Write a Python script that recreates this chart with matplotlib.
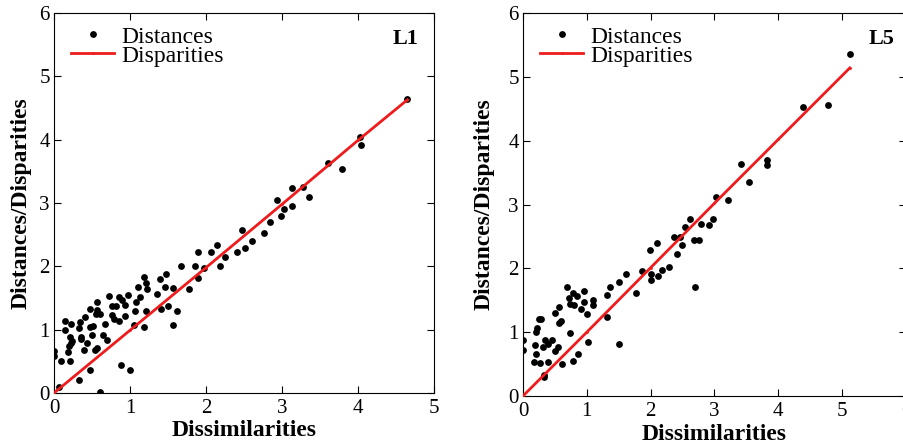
import matplotlib
matplotlib.use("Agg")
import matplotlib.pyplot as plt

plt.rcParams['font.family'] = ['Liberation Serif', 'DejaVu Serif']

# ---- Panel L1 data ----
l1_dissim = [4.65, 4.04, 3.79, 3.35, 3.13, 3.13, 3.27, 2.93, 3.02, 2.99, 2.84, 2.76, 2.60,
             2.47, 2.51, 2.41, 2.25, 2.18, 2.14, 2.07, 1.97, 1.90, 1.86, 1.89, 1.77, 1.67,
             1.62, 1.56, 1.57, 1.48, 1.46, 1.50, 1.39, 1.41, 1.35, 1.18, 1.21, 1.23, 1.10,
             1.13, 1.08, 1.06, 1.21, 1.19, 1.05, 0.98, 0.93, 0.94, 0.89, 0.86, 0.82, 0.77,
             0.76, 0.79, 0.86, 0.73, 0.56, 0.57, 0.55, 0.60, 0.47, 0.41, 0.48, 0.51, 0.67,
             0.65, 0.70, 0.50, 0.44, 0.34, 0.33, 0.35, 0.36, 0.40, 0.54, 0.56, 0.23, 0.15,
             0.14, 0.21, 0.22, 0.19, 0.20, 0.24, 0.09, 0.21, 0.47, 0.33, 0.88, 1.00, 0.0,
             0.0, 0.60, 0.06, 3.61, 4.03]
l1_dist = [4.64, 3.91, 3.54, 3.10, 3.23, 2.96, 3.25, 3.04, 2.90, 2.79, 2.70, 2.53, 2.40,
           2.57, 2.29, 2.22, 2.14, 2.01, 2.33, 2.23, 1.97, 2.22, 2.01, 1.81, 1.65, 2.01,
           1.30, 1.66, 1.07, 1.88, 1.67, 1.38, 1.80, 1.33, 1.57, 1.83, 1.73, 1.65, 1.68,
           1.52, 1.43, 1.29, 1.30, 1.04, 1.08, 1.54, 1.21, 1.39, 1.47, 1.52, 1.37, 1.38,
           1.23, 1.17, 1.14, 1.53, 1.43, 1.31, 1.24, 1.24, 1.32, 1.20, 1.05, 1.06, 1.09,
           0.92, 0.84, 0.91, 0.79, 1.12, 1.02, 0.89, 0.86, 0.68, 0.68, 0.71, 1.09, 1.00,
           1.13, 0.89, 0.79, 0.65, 0.74, 0.82, 0.50, 0.50, 0.36, 0.20, 0.44, 0.36, 0.66,
           0.58, 0.01, 0.09, 3.63, 4.04]
l1_line_x = [0.0, 1.0, 2.0, 3.0, 4.0, 4.65]
l1_line_y = [0.0, 0.99, 1.98, 2.98, 3.99, 4.63]

# ---- Panel L5 data ----
l5_dissim = [5.12, 4.78, 4.39, 3.83, 3.83, 3.41, 3.54, 3.21, 3.02, 2.98, 2.91, 2.79, 2.75,
             2.68, 2.69, 2.61, 2.54, 2.49, 2.46, 2.37, 2.42, 2.28, 2.18, 2.12, 2.10, 1.99,
             2.01, 2.00, 1.86, 1.77, 1.61, 1.50, 1.50, 1.36, 1.32, 1.32, 1.10, 1.09, 1.02,
             1.01, 0.96, 0.95, 0.91, 0.85, 0.79, 0.80, 0.74, 0.72, 0.69, 0.73, 0.86, 0.78,
             0.61, 0.57, 0.59, 0.56, 0.50, 0.55, 0.45, 0.39, 0.34, 0.31, 0.39, 0.33, 0.33,
             0.29, 0.25, 0.22, 0.21, 0.19, 0.21, 0.17, 0.26, 0.50, 0.0, 0.0]
l5_dist = [5.36, 4.56, 4.52, 3.69, 3.62, 3.63, 3.36, 3.07, 3.12, 2.78, 2.68, 2.69, 2.45,
           2.45, 1.71, 2.78, 2.65, 2.36, 2.49, 2.49, 2.22, 2.02, 1.98, 1.88, 2.39, 2.28,
           1.82, 1.91, 1.96, 1.62, 1.91, 1.78, 0.82, 1.70, 1.58, 1.24, 1.43, 1.51, 0.84,
           1.28, 1.64, 1.47, 1.36, 1.57, 1.62, 1.42, 1.44, 1.53, 1.71, 0.98, 0.66, 0.55,
           0.50, 1.40, 1.17, 1.15, 1.30, 0.77, 0.88, 0.82, 0.87, 0.76, 0.53, 0.33, 0.29,
           1.20, 1.20, 1.06, 1.01, 0.80, 0.66, 0.53, 0.51, 0.71, 0.72, 0.88]
l5_line_x = [0.0, 1.0, 2.0, 3.0, 4.0, 5.12]
l5_line_y = [0.0, 1.0, 2.01, 3.02, 4.02, 5.14]

panels = [
    dict(dx=l1_dissim, dy=l1_dist, lx=l1_line_x, ly=l1_line_y, xmax=5, tag='L1',
         rect=[0.0597, 0.1188, 0.4204, 0.852], ylab_x=-0.058, xlab_y=-0.07, tag_x=0.958),
    dict(dx=l5_dissim, dy=l5_dist, lx=l5_line_x, ly=l5_line_y, xmax=6, tag='L5',
         rect=[0.5785, 0.1121, 0.4237, 0.8587], ylab_x=-0.073, xlab_y=-0.072, tag_x=0.969),
]

fig = plt.figure(figsize=(9.04, 4.46), dpi=100)
for p in panels:
    ax = fig.add_axes(p['rect'])
    ax.plot(p['dx'], p['dy'], 'o', color='black', markersize=4.9, markeredgewidth=0,
            label='Distances', zorder=3)
    ax.plot(p['lx'], p['ly'], '-', color='#ee1c1c', linewidth=2.0, marker='.',
            markersize=2, label='Disparities', zorder=4)
    ax.set_xlim(0, p['xmax'])
    ax.set_ylim(0, 6)
    ax.set_xticks(range(0, p['xmax'] + 1))
    ax.set_yticks(range(0, 7))
    ax.tick_params(direction='in', top=True, right=True, length=5, width=0.8,
                   labelsize=15)
    ax.tick_params(axis='x', pad=4)
    ax.tick_params(axis='y', pad=3)
    for s in ax.spines.values():
        s.set_linewidth(0.8)
    ax.set_xlabel('Dissimilarities', fontsize=17, fontweight='bold')
    ax.set_ylabel('Distances/Disparities', fontsize=17, fontweight='bold')
    ax.xaxis.set_label_coords(0.5, p['xlab_y'])
    ax.yaxis.set_label_coords(p['ylab_x'], 0.5)
    ax.text(p['tag_x'], 0.932, p['tag'], transform=ax.transAxes, fontsize=16,
            fontweight='bold', ha='right', va='center')
    ax.legend(loc='upper left', frameon=False, fontsize=17, bbox_to_anchor=(0.01, 1.0),
              handlelength=1.85, handletextpad=0.3, labelspacing=-0.1, borderpad=0.25,
              borderaxespad=0.3)

fig.savefig('out.png', dpi=100)
